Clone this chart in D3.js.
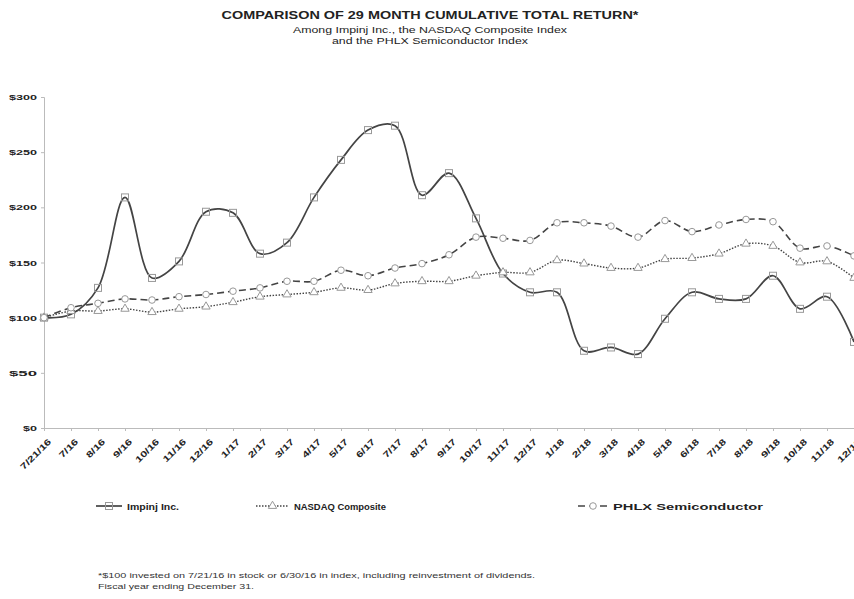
<!DOCTYPE html>
<html>
<head>
<meta charset="utf-8">
<script src="https://cdn.jsdelivr.net/npm/d3@7"></script>
<style>
  body { margin: 0; background: #fff; }
  text { font-family: Arial, "Liberation Sans", sans-serif; }
</style>
</head>
<body>
<svg id="chart" width="854" height="599"></svg>
<script>
var dates = ["7/21/16", "7/16", "8/16", "9/16", "10/16", "11/16", "12/16",
  "1/17", "2/17", "3/17", "4/17", "5/17", "6/17", "7/17", "8/17", "9/17", "10/17", "11/17", "12/17",
  "1/18", "2/18", "3/18", "4/18", "5/18", "6/18", "7/18", "8/18", "9/18", "10/18", "11/18", "12/18"];

var impinj = [100, 103, 127, 209, 136, 151, 196, 195, 158, 168, 209, 243, 270, 274, 211, 231, 190,
  140, 123, 123, 70, 73, 67, 99, 123, 117, 117, 138, 108, 119, 78];
var nasdaq = [100, 106, 106, 108, 105, 108, 110, 114, 119, 121, 123, 127, 125, 131, 133, 133, 138,
  141, 141, 152, 149, 145, 145, 153, 154, 158, 167, 165, 150, 151, 136];
var phlx = [100, 109, 113, 117, 116, 119, 121, 124, 127, 133, 133, 143, 138, 145, 149, 157, 173,
  172, 170, 186, 186, 183, 173, 188, 178, 184, 189, 187, 163, 165, 156];

var yTicks = [0, 50, 100, 150, 200, 250, 300];

var svg = d3.select("#chart");
var plotLeft = 44, plotRight = 854, plotTop = 97, plotBottom = 428;

var x = d3.scalePoint().domain(dates).range([plotLeft, plotRight]);
var y = d3.scaleLinear().domain([0, 300]).range([plotBottom, plotTop]);

// titles (the source image is stretched sideways, so fit widths)
function stretchedText(tx, ty, str, size, weight, len, anchor) {
  return svg.append("text").attr("x", tx).attr("y", ty)
    .attr("text-anchor", anchor || "start")
    .attr("textLength", len).attr("lengthAdjust", "spacingAndGlyphs")
    .style("font-size", size + "px").style("font-weight", weight)
    .attr("fill", "#222").text(str);
}
stretchedText(430, 19, "COMPARISON OF 29 MONTH CUMULATIVE TOTAL RETURN*", 11.5, "bold", 417, "middle");
stretchedText(430, 33, "Among Impinj Inc., the NASDAQ Composite Index", 8.5, "normal", 274, "middle");
stretchedText(430, 44, "and the PHLX Semiconductor Index", 8.5, "normal", 196, "middle");

// axes
var yAxis = svg.append("g").attr("transform", "translate(" + plotLeft + ",0)")
  .call(d3.axisLeft(y).tickValues(yTicks).tickSize(3).tickFormat(function(d) { return "$" + d; }));
var xAxis = svg.append("g").attr("transform", "translate(0," + plotBottom + ")")
  .call(d3.axisBottom(x).tickSize(3).tickSizeOuter(0));

[yAxis, xAxis].forEach(function(a) {
  a.select(".domain").attr("stroke", "#bbb");
  a.selectAll(".tick line").attr("stroke", "#bbb");
  a.selectAll("text").style("font-size", "8px").style("font-weight", "bold").attr("fill", "#222");
});
yAxis.selectAll("text").attr("x", -7)
  .attr("textLength", function(d) { return d === 0 ? 14 : 28; })
  .attr("lengthAdjust", "spacingAndGlyphs");
xAxis.selectAll("text")
  .attr("text-anchor", "end")
  .attr("dx", 0).attr("dy", 0)
  .style("font-size", "8.5px")
  .attr("transform", "translate(3,10) rotate(-45) scale(1.4,1)");

var series = [
  { name: "Impinj Inc.", values: impinj, dash: null, marker: "square", width: 1.7, len: 52 },
  { name: "NASDAQ Composite", values: nasdaq, dash: "1.5,1.5", marker: "triangle", width: 1.4, len: 92 },
  { name: "PHLX Semiconductor", values: phlx, dash: "7,4", marker: "circle", width: 1.6, len: 150 }
];

var line = d3.line()
  .x(function(d, i) { return x(dates[i]); })
  .y(function(d) { return y(d); })
  .curve(d3.curveCatmullRom.alpha(0.5));

function drawMarker(g, type, cx, cy) {
  if (type === "square") {
    g.append("rect").attr("x", cx - 3.5).attr("y", cy - 3.5).attr("width", 7).attr("height", 7)
      .attr("fill", "none").attr("stroke", "#999").attr("stroke-width", 1);
  } else if (type === "triangle") {
    g.append("path").attr("d", d3.symbol().type(d3.symbolTriangle).size(30)())
      .attr("transform", "translate(" + cx + "," + cy + ")")
      .attr("fill", "#fff").attr("stroke", "#999").attr("stroke-width", 1);
  } else {
    g.append("circle").attr("cx", cx).attr("cy", cy).attr("r", 3.3)
      .attr("fill", "#fff").attr("stroke", "#999").attr("stroke-width", 1);
  }
}

series.forEach(function(s) {
  var g = svg.append("g");
  g.append("path").datum(s.values).attr("d", line)
    .attr("fill", "none").attr("stroke", "#444").attr("stroke-width", s.width)
    .attr("stroke-dasharray", s.dash);
  s.values.forEach(function(v, i) {
    drawMarker(g, s.marker, x(dates[i]), y(v));
  });
});

// legend
var legendX = [96, 256, 578];
var legendW = [26, 33, 30];
series.forEach(function(s, i) {
  var g = svg.append("g").attr("transform", "translate(" + legendX[i] + ",506)");
  g.append("line").attr("x1", 0).attr("x2", legendW[i]).attr("y1", 0).attr("y2", 0)
    .attr("stroke", "#444").attr("stroke-width", s.width).attr("stroke-dasharray", s.dash);
  drawMarker(g, s.marker, legendW[i] / 2, 0);
  g.append("text").attr("x", legendW[i] + 5).attr("y", 3.5)
    .attr("textLength", s.len).attr("lengthAdjust", "spacingAndGlyphs")
    .style("font-size", "9px").style("font-weight", "bold")
    .attr("fill", "#222").text(s.name);
});

// footnote
svg.append("text").attr("x", 98).attr("y", 578).style("font-size", "7px").attr("fill", "#333")
  .attr("textLength", 437).attr("lengthAdjust", "spacingAndGlyphs")
  .text("*$100 invested on 7/21/16 in stock or 6/30/16 in index, including reinvestment of dividends.");
svg.append("text").attr("x", 98).attr("y", 589).style("font-size", "7px").attr("fill", "#333")
  .attr("textLength", 156).attr("lengthAdjust", "spacingAndGlyphs")
  .text("Fiscal year ending December 31.");
</script>
</body>
</html>
